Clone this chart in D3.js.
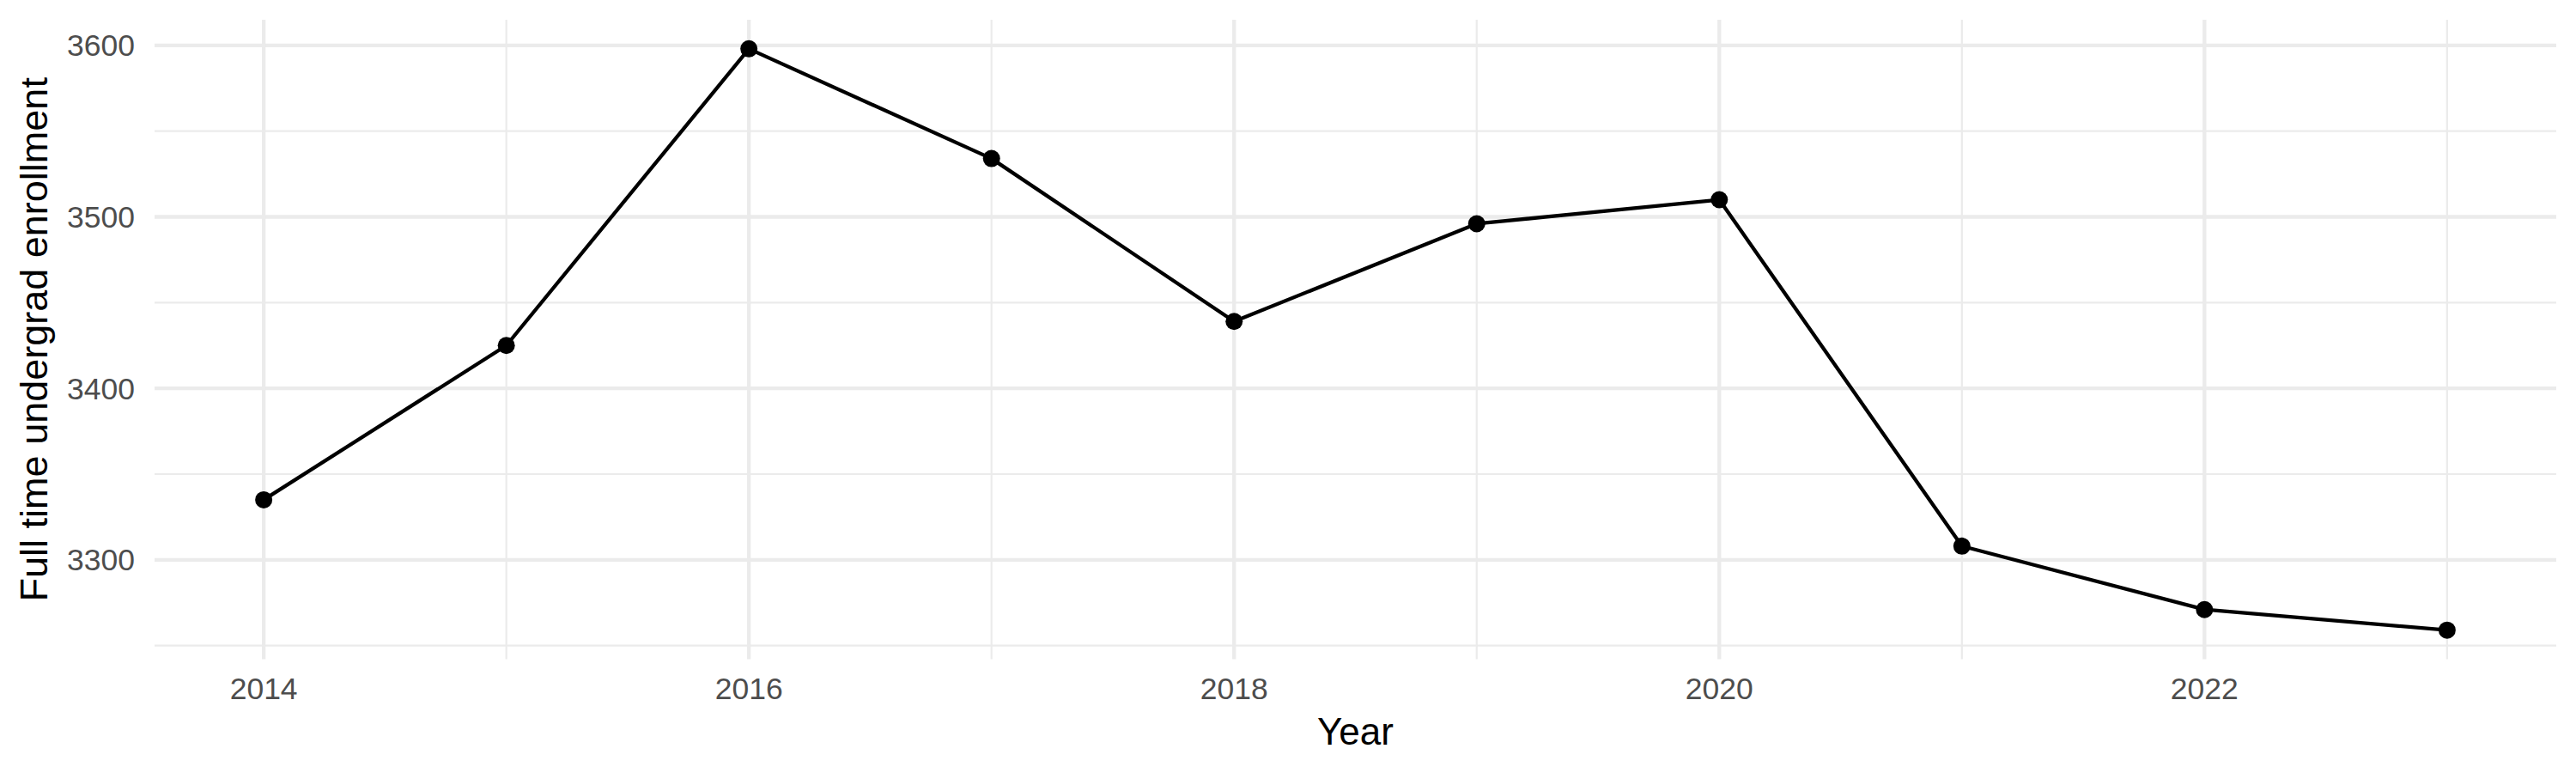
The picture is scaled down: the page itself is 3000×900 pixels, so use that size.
<!DOCTYPE html>
<html>
<head>
<meta charset="utf-8">
<script src="https://cdn.jsdelivr.net/npm/d3@7"></script>
<style>
  body { margin: 0; background: #fff; }
  text { font-family: "Liberation Sans", Arial, sans-serif; }
</style>
</head>
<body>
<div class="chart"></div>
<script>
const years = [2014, 2015, 2016, 2017, 2018, 2019, 2020, 2021, 2022, 2023];
const enrollment = [3335, 3425, 3598, 3534, 3439, 3496, 3510, 3308, 3271, 3259];
const xMajor = [2014, 2016, 2018, 2020, 2022];
const xMinor = [2015, 2017, 2019, 2021, 2023];
const yMajor = [3300, 3400, 3500, 3600];
const yMinor = [3250, 3350, 3450, 3550];

const width = 3000, height = 900;
const panelLeft = 180, panelRight = 2977, panelTop = 23, panelBottom = 767.5;

const svg = d3.select('.chart').append('svg')
    .attr('width', width).attr('height', height);

// ggplot style 5% expansion on each side
const xPad = (d3.max(years) - d3.min(years)) * 0.05;
const x = d3.scaleLinear()
    .domain([d3.min(years) - xPad, d3.max(years) + xPad])
    .range([panelLeft, panelRight]);
const yPad = (d3.max(enrollment) - d3.min(enrollment)) * 0.05;
const y = d3.scaleLinear()
    .domain([d3.min(enrollment) - yPad, d3.max(enrollment) + yPad])
    .range([panelBottom, panelTop]);

const grid = svg.append('g');
grid.selectAll('line.ymin').data(yMinor).enter().append('line')
    .attr('x1', panelLeft).attr('x2', panelRight)
    .attr('y1', d => y(d)).attr('y2', d => y(d))
    .attr('stroke', '#ebebeb').attr('stroke-width', 2.2);
grid.selectAll('line.xmin').data(xMinor).enter().append('line')
    .attr('y1', panelTop).attr('y2', panelBottom)
    .attr('x1', d => x(d)).attr('x2', d => x(d))
    .attr('stroke', '#ebebeb').attr('stroke-width', 2.2);
grid.selectAll('line.ymaj').data(yMajor).enter().append('line')
    .attr('x1', panelLeft).attr('x2', panelRight)
    .attr('y1', d => y(d)).attr('y2', d => y(d))
    .attr('stroke', '#ebebeb').attr('stroke-width', 4.3);
grid.selectAll('line.xmaj').data(xMajor).enter().append('line')
    .attr('y1', panelTop).attr('y2', panelBottom)
    .attr('x1', d => x(d)).attr('x2', d => x(d))
    .attr('stroke', '#ebebeb').attr('stroke-width', 4.3);

// tick labels
svg.append('g').selectAll('text').data(yMajor).enter().append('text')
    .attr('x', 157).attr('y', d => y(d)).attr('dy', '0.355em')
    .attr('text-anchor', 'end')
    .attr('font-size', 35.5).attr('fill', '#4d4d4d')
    .text(d => d);
svg.append('g').selectAll('text').data(xMajor).enter().append('text')
    .attr('x', d => x(d)).attr('y', 814)
    .attr('text-anchor', 'middle')
    .attr('font-size', 35.5).attr('fill', '#4d4d4d')
    .text(d => d);

// axis titles
svg.append('text')
    .attr('x', (panelLeft + panelRight) / 2).attr('y', 867)
    .attr('text-anchor', 'middle')
    .attr('font-size', 44).attr('fill', '#000')
    .text('Year');
svg.append('text')
    .attr('transform', 'translate(55,' + ((panelTop + panelBottom) / 2) + ') rotate(-90)')
    .attr('text-anchor', 'middle')
    .attr('font-size', 45).attr('fill', '#000')
    .text('Full time undergrad enrollment');

// series
const line = d3.line()
    .x((d, i) => x(years[i]))
    .y(d => y(d));
svg.append('path')
    .datum(enrollment)
    .attr('d', line)
    .attr('fill', 'none')
    .attr('stroke', '#000')
    .attr('stroke-width', 4.3)
    .attr('stroke-linejoin', 'round');
svg.selectAll('circle.pt').data(enrollment).enter().append('circle')
    .attr('cx', (d, i) => x(years[i]))
    .attr('cy', d => y(d))
    .attr('r', 10)
    .attr('fill', '#000');
</script>
</body>
</html>
